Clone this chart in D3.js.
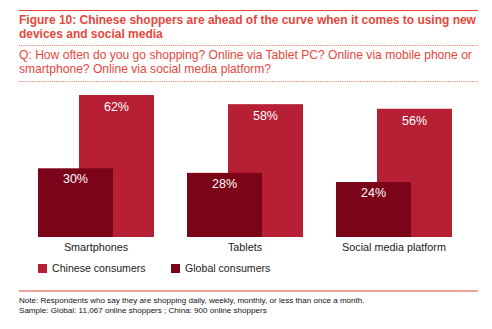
<!DOCTYPE html>
<html><head><meta charset="utf-8">
<script src="https://cdn.jsdelivr.net/npm/d3@7"></script>
<style>body{margin:0;background:#fff}svg{display:block}text{font-family:"Liberation Sans",Arial,sans-serif}</style>
</head><body>
<svg id="c" width="492" height="329"></svg>
<script>
const categories = ["Smartphones", "Tablets", "Social media platform"];
const seriesNames = ["Chinese consumers", "Global consumers"];
const chinese = [62, 58, 56];
const global = [30, 28, 24];
const titleLines = ["Figure 10: Chinese shoppers are ahead of the curve when it comes to using new", "devices and social media"];
const questionLines = ["Q: How often do you go shopping? Online via Tablet PC? Online via mobile phone or", "smartphone? Online via social media platform?"];
const noteLines = ["Note: Respondents who say they are shopping daily, weekly, monthly, or less than once a month.", "Sample: Global: 11,067 online shoppers ; China: 900 online shoppers"];

const svg = d3.select("#c");
const accent = "#e6473d";
const cChina = "#b71f34";
const cGlobal = "#7c0419";

// fit a text element to a target width by adjusting font-size
function fit(sel, target){
  const w = sel.node().getComputedTextLength();
  const fs = parseFloat(sel.attr("font-size"));
  sel.attr("font-size", (fs*target/w).toFixed(2));
}

// header
svg.append("line").attr("x1",19).attr("x2",478).attr("y1",10.5).attr("y2",10.5).attr("stroke",accent).attr("stroke-width",1);
const tl = titleLines.map((t,i)=>svg.append("text").attr("x",19).attr("y",24+i*14).attr("font-size",12).attr("font-weight","bold").attr("fill",accent).text(t));
fit(tl[0],457); tl[1].attr("font-size", tl[0].attr("font-size"));
svg.append("line").attr("x1",19).attr("x2",478).attr("y1",45.5).attr("y2",45.5).attr("stroke",accent).attr("stroke-width",0.8).attr("stroke-dasharray","1,1.2");
const ql = questionLines.map((t,i)=>svg.append("text").attr("x",19).attr("y",59+i*14).attr("font-size",12).attr("fill",accent).text(t));
fit(ql[0],453); ql[1].attr("font-size", ql[0].attr("font-size"));
svg.append("line").attr("x1",19).attr("x2",478).attr("y1",81.5).attr("y2",81.5).attr("stroke",accent).attr("stroke-width",0.8).attr("stroke-dasharray","1,1.2");

// scales
const x = d3.scaleBand().domain(categories).range([38,452]).paddingInner(0.2215).paddingOuter(0);
const xs = d3.scaleBand().domain(["Global","Chinese"]).range([0,x.bandwidth()]).paddingInner(1-75/41).paddingOuter(0);
const y = d3.scaleLinear().domain([0,100]).range([237,8]);

const data = categories.map((c,i)=>({c, chinese:chinese[i], global:global[i]}));
const g = svg.append("g");
g.selectAll(".ch").data(data).join("rect").attr("class","ch")
  .attr("x",d=>x(d.c)+xs("Chinese")).attr("width",xs.bandwidth())
  .attr("y",d=>y(d.chinese)).attr("height",d=>y(0)-y(d.chinese)).attr("fill",cChina);
g.selectAll(".gl").data(data).join("rect").attr("class","gl")
  .attr("x",d=>x(d.c)+xs("Global")).attr("width",xs.bandwidth())
  .attr("y",d=>y(d.global)).attr("height",d=>y(0)-y(d.global)).attr("fill",cGlobal);
g.selectAll(".chl").data(data).join("text").attr("class","chl")
  .attr("x",d=>x(d.c)+xs("Chinese")+xs.bandwidth()/2).attr("y",d=>y(d.chinese)+16)
  .attr("text-anchor","middle").attr("font-size",12.5).attr("fill","#fff").text(d=>d.chinese+"%");
g.selectAll(".gll").data(data).join("text").attr("class","gll")
  .attr("x",d=>x(d.c)+xs("Global")+xs.bandwidth()/2).attr("y",d=>y(d.global)+15)
  .attr("text-anchor","middle").attr("font-size",12.5).attr("fill","#fff").text(d=>d.global+"%");

const xAxis = d3.axisBottom(x).tickSize(0).tickPadding(6);
const ax = svg.append("g").attr("transform",`translate(0,${y(0)})`).call(xAxis);
ax.select(".domain").remove();
ax.selectAll("text").attr("font-size",10.8).attr("fill","#222").attr("font-family","Liberation Sans, Arial, sans-serif");

const legX = [38,171];
const colors = [cChina,cGlobal];
seriesNames.forEach((s,i)=>{
  svg.append("rect").attr("x",legX[i]).attr("y",264).attr("width",9).attr("height",9).attr("fill",colors[i]);
  svg.append("text").attr("x",legX[i]+14).attr("y",272).attr("font-size",10.6).attr("fill","#222").text(s);
});

svg.append("line").attr("x1",19).attr("x2",478).attr("y1",291).attr("y2",291).attr("stroke",accent).attr("stroke-width",1);
const nl = noteLines.map((t,i)=>svg.append("text").attr("x",19).attr("y",303+i*10).attr("font-size",8).attr("fill","#111").text(t));
fit(nl[0],346); nl[1].attr("font-size", nl[0].attr("font-size"));
</script>
</body></html>
